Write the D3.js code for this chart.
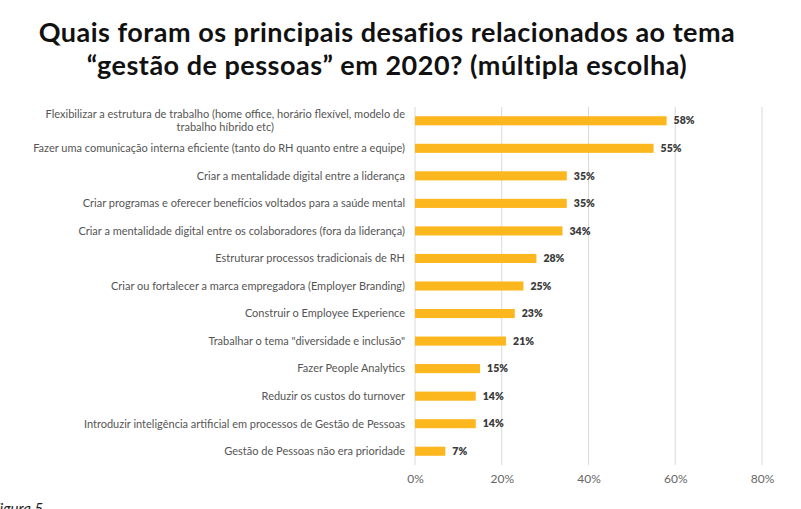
<!DOCTYPE html>
<html>
<head>
<meta charset="utf-8">
<script src="https://cdn.jsdelivr.net/npm/d3@7"></script>
<style>
  html, body { margin: 0; padding: 0; background: #fff; }
  svg { display: block; }
</style>
</head>
<body>
<svg id="chart" width="801" height="509"></svg>
<script>
const titleLines = ["Quais foram os principais desafios relacionados ao tema", "\u201cgestão de pessoas\u201d em 2020? (múltipla escolha)"];
const categories = [
  ["Flexibilizar a estrutura de trabalho (home office, horário flexível, modelo de", "trabalho híbrido etc)"],
  ["Fazer uma comunicação interna eficiente (tanto do RH quanto entre a equipe)"],
  ["Criar a mentalidade digital entre a liderança"],
  ["Criar programas e oferecer benefícios voltados para a saúde mental"],
  ["Criar a mentalidade digital entre os colaboradores (fora da liderança)"],
  ["Estruturar processos tradicionais de RH"],
  ["Criar ou fortalecer a marca empregadora (Employer Branding)"],
  ["Construir o Employee Experience"],
  ["Trabalhar o tema \"diversidade e inclusão\""],
  ["Fazer People Analytics"],
  ["Reduzir os custos do turnover"],
  ["Introduzir inteligência artificial em processos de Gestão de Pessoas"],
  ["Gestão de Pessoas não era prioridade"]
];
const values = [58, 55, 35, 35, 34, 28, 25, 23, 21, 15, 14, 14, 7];
const tickValues = [0, 20, 40, 60, 80];
const caption = "Figura 5";

const svg = d3.select("#chart");
const x0 = 415, x1 = 762, yTop = 107, yBot = 465;
const FONT = "Lato, 'Open Sans', sans-serif";

const x = d3.scaleLinear().domain([0, 80]).range([x0, x1]);
const y = d3.scaleBand().domain(d3.range(categories.length)).range([yTop, yBot])
  .paddingInner(0.67).paddingOuter(0.335);

// title
const title = svg.append("text").attr("text-anchor", "middle")
  .style("font-family", FONT).style("font-weight", "700")
  .style("font-size", "27px").style("letter-spacing", "0.5px").attr("fill", "#111");
titleLines.forEach((t, i) => {
  title.append("tspan").attr("x", 387).attr("y", 42 + i * 33).text(t);
});

// gridlines
svg.append("g").selectAll("line").data(tickValues).join("line")
  .attr("x1", d => x(d)).attr("x2", d => x(d))
  .attr("y1", yTop).attr("y2", yBot)
  .attr("stroke", "#d9d9d9").attr("stroke-width", 1);

// axis
const axis = d3.axisBottom(x).tickValues(tickValues).tickFormat(d => d + "%").tickSize(0).tickPadding(0);
const ax = svg.append("g").attr("transform", `translate(0,${yBot + 9})`).call(axis);
ax.select(".domain").remove();
ax.selectAll("text").attr("fill", "#666").style("font-family", FONT)
  .style("font-size", "12px");

// bars
svg.append("g").selectAll("rect").data(values).join("rect")
  .attr("x", x(0)).attr("y", (d, i) => y(i))
  .attr("width", d => x(d) - x(0)).attr("height", y.bandwidth())
  .attr("fill", "#FDB71E");

// value labels
svg.append("g").selectAll("text").data(values).join("text")
  .attr("x", d => x(d) + 7).attr("y", (d, i) => y(i) + y.bandwidth() / 2)
  .attr("dy", "0.35em")
  .style("font-family", FONT).style("font-weight", "800")
  .style("font-size", "10.5px").attr("fill", "#3a3a3a")
  .text(d => d + "%");

// category labels
const labelRight = 405;
const cl = svg.append("g").selectAll("text").data(categories).join("text")
  .style("font-family", FONT)
  .style("font-size", "11px").attr("fill", "#555");
cl.each(function(lines, i) {
  const cy = y(i) + y.bandwidth() / 2;
  const n = lines.length;
  const sel = d3.select(this);
  if (n === 1) {
    sel.attr("text-anchor", "end").append("tspan")
      .attr("x", labelRight).attr("y", cy).attr("dy", "0.35em").text(lines[0]);
  } else {
    sel.attr("text-anchor", "middle");
    const tsp = lines.map((l, j) => sel.append("tspan")
      .attr("y", cy + (j - (n - 1) / 2) * 13).attr("dy", "0.35em").text(l));
    const w = d3.max(tsp, t => t.node().getComputedTextLength());
    tsp.forEach(t => t.attr("x", labelRight - w / 2));
  }
});

// caption
svg.append("text").attr("x", -8).attr("y", 514)
  .style("font-family", FONT).style("font-style", "italic")
  .style("font-size", "15px").attr("fill", "#222").text(caption);
</script>
</body>
</html>
